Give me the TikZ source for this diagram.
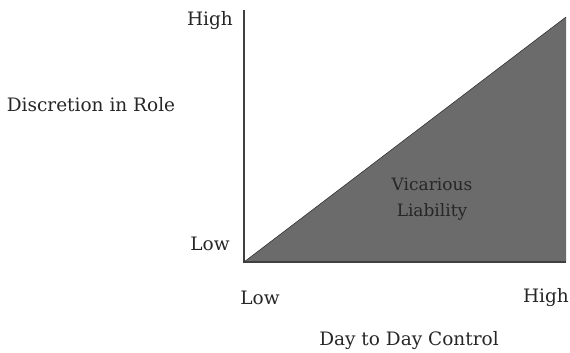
\documentclass[tikz,border=0pt]{standalone}
\usepackage{fontspec}
\setmainfont{DejaVu Serif}
\begin{document}
\begin{tikzpicture}[x=1pt,y=-1pt]

      \useasboundingbox (0,0) rectangle (570,353);

      \coordinate (O)  at (244,262);
      \coordinate (T)  at (244,10);
      \coordinate (R)  at (566,262);
      \coordinate (TR) at (566,17);

      \fill[black!58] (O) -- (TR) -- (R) -- cycle;
      \draw[black!75,line width=1.3pt] (T) -- (O) -- (R);
      \draw[black!80,line width=0.6pt] (O) -- (TR);

      \begin{scope}[every node/.style={font=\fontsize{18.5}{22}\selectfont,text=black!85,inner sep=0pt}]
        \node (yhigh)  at (210,21)  {High};
        \node (ylow)   at (210,244) {Low};
        \node (ylabel) at (91,105)  {Discretion in Role};
        \node (xlow)   at (260,298) {Low};
        \node (xhigh)  at (546,298) {High};
        \node (xlabel) at (409,341) {Day to Day Control};
        \node[align=center,font=\fontsize{17}{26}\selectfont] (area) at (432,199) {Vicarious\\Liability};
      \end{scope}

    \end{tikzpicture}
\end{document}
